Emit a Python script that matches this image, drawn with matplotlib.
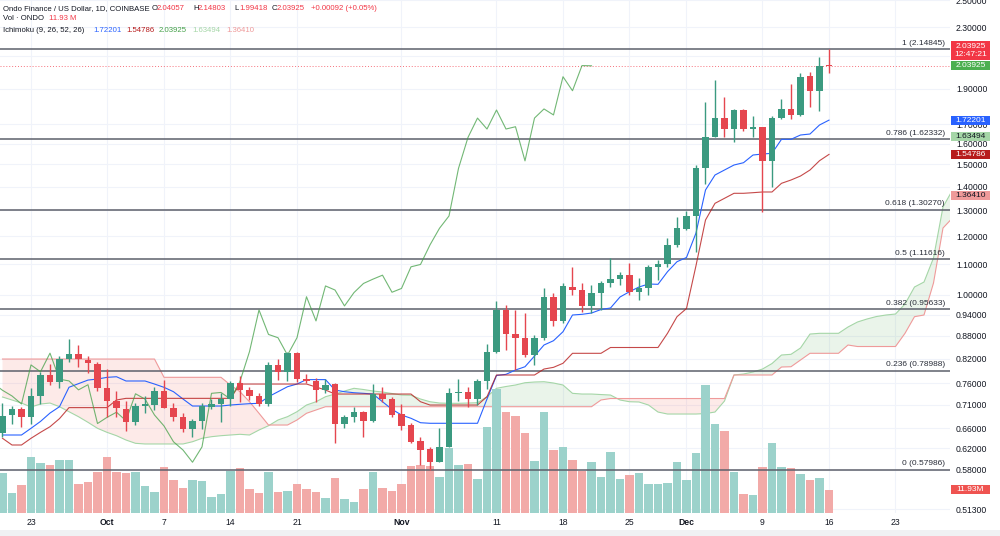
import numpy as np
import pandas as pd
import matplotlib
matplotlib.use("Agg")
import matplotlib.pyplot as plt
from matplotlib.patches import Rectangle
from matplotlib.ticker import FixedLocator, NullLocator, FuncFormatter
from matplotlib.transforms import blended_transform_factory

plt.rcParams['font.family'] = ['Liberation Sans', 'DejaVu Sans']

######### DATA  (ONDO / USD, 1D, Coinbase)
dates = pd.date_range('2024-09-20', '2024-12-16', freq='D')
# leading spans are drawn 25 bars ahead, so they run past the last candle
cloud_dates = pd.date_range('2024-09-20', '2024-12-29', freq='D')

opens = [0.651, 0.687, 0.701, 0.684, 0.731, 0.779, 0.763, 0.819, 0.832, 0.817,
         0.806, 0.748, 0.719, 0.701, 0.673, 0.707, 0.709, 0.742, 0.703, 0.683,
         0.658, 0.676, 0.706, 0.712, 0.723, 0.759, 0.744, 0.729, 0.712, 0.804,
         0.787, 0.834, 0.769, 0.765, 0.744, 0.758, 0.669, 0.684, 0.694, 0.676,
         0.735, 0.723, 0.690, 0.666, 0.635, 0.618, 0.594, 0.623, 0.736, 0.738,
         0.723, 0.765, 0.838, 0.954, 0.884, 0.875, 0.829, 0.873, 0.994, 0.922,
         1.026, 1.015, 0.966, 1.007, 1.036, 1.049, 1.065, 1.008, 1.020, 1.091,
         1.099, 1.168, 1.226, 1.279, 1.482, 1.632, 1.733, 1.673, 1.777, 1.677,
         1.684, 1.517, 1.733, 1.783, 1.750, 1.975, 1.887, 2.04057]
highs = [0.714, 0.708, 0.705, 0.748, 0.786, 0.806, 0.827, 0.871, 0.855, 0.827,
         0.811, 0.793, 0.742, 0.719, 0.714, 0.729, 0.750, 0.767, 0.714, 0.692,
         0.679, 0.714, 0.723, 0.736, 0.765, 0.776, 0.750, 0.736, 0.812, 0.819,
         0.838, 0.838, 0.781, 0.771, 0.769, 0.759, 0.688, 0.706, 0.697, 0.758,
         0.750, 0.728, 0.712, 0.671, 0.643, 0.623, 0.660, 0.748, 0.769, 0.750,
         0.769, 0.859, 0.980, 0.969, 0.954, 0.944, 0.882, 1.020, 1.007, 1.036,
         1.089, 1.036, 1.031, 1.045, 1.120, 1.075, 1.105, 1.053, 1.097, 1.114,
         1.192, 1.275, 1.299, 1.497, 1.824, 1.951, 1.849, 1.780, 1.780, 1.743,
         1.684, 1.743, 1.838, 1.927, 1.993, 2.002, 2.098, 2.14803]
lows = [0.642, 0.669, 0.662, 0.669, 0.712, 0.755, 0.748, 0.812, 0.798, 0.785,
        0.742, 0.684, 0.684, 0.655, 0.666, 0.692, 0.699, 0.703, 0.675, 0.653,
        0.643, 0.659, 0.702, 0.673, 0.708, 0.716, 0.721, 0.708, 0.708, 0.767,
        0.765, 0.763, 0.759, 0.717, 0.737, 0.631, 0.660, 0.673, 0.643, 0.673,
        0.716, 0.684, 0.657, 0.630, 0.588, 0.5799, 0.594, 0.622, 0.719, 0.706,
        0.710, 0.745, 0.834, 0.842, 0.791, 0.823, 0.804, 0.869, 0.907, 0.915,
        0.999, 0.949, 0.945, 0.954, 1.026, 1.031, 0.999, 0.984, 0.999, 1.047,
        1.091, 1.162, 1.223, 1.144, 1.412, 1.632, 1.634, 1.611, 1.665, 1.634,
        1.295, 1.400, 1.727, 1.726, 1.743, 1.795, 1.773, 1.99418]
closes = [0.686, 0.702, 0.684, 0.730, 0.779, 0.762, 0.819, 0.832, 0.818, 0.808,
          0.748, 0.719, 0.703, 0.673, 0.707, 0.711, 0.742, 0.703, 0.684, 0.659,
          0.676, 0.708, 0.712, 0.723, 0.760, 0.743, 0.730, 0.712, 0.804, 0.787,
          0.834, 0.769, 0.765, 0.744, 0.756, 0.670, 0.683, 0.694, 0.676, 0.735,
          0.723, 0.688, 0.665, 0.633, 0.617, 0.594, 0.623, 0.736, 0.738, 0.723,
          0.764, 0.838, 0.954, 0.884, 0.875, 0.829, 0.875, 0.994, 0.922, 1.028,
          1.015, 0.966, 1.007, 1.036, 1.050, 1.063, 1.008, 1.020, 1.091, 1.099,
          1.168, 1.230, 1.278, 1.482, 1.632, 1.733, 1.675, 1.777, 1.675, 1.687,
          1.517, 1.733, 1.783, 1.750, 1.971, 1.887, 2.0406, 2.03925]
volumes = [20.6, 10.4, 14.3, 28.8, 25.4, 24.7, 27.1, 27.1, 15.0, 15.9,
           21.1, 28.8, 21.1, 20.6, 21.1, 13.8, 10.9, 23.7, 16.7, 12.8,
           16.9, 16.4, 8.0, 9.9, 21.7, 22.9, 12.3, 10.2, 21.1, 10.9,
           11.3, 15.0, 12.3, 10.9, 7.5, 17.7, 7.0, 5.8, 12.1, 21.1,
           12.6, 11.3, 15.0, 23.9, 24.6, 24.1, 18.4, 33.4, 24.7, 25.2,
           17.4, 44.0, 63.3, 51.5, 49.7, 41.1, 26.6, 51.7, 32.1, 33.6,
           27.0, 21.3, 26.0, 18.3, 31.4, 17.6, 19.5, 20.5, 14.7, 15.0,
           15.4, 26.3, 16.9, 30.7, 65.5, 45.4, 42.0, 21.1, 9.9, 9.2,
           23.5, 35.7, 23.7, 23.0, 19.8, 16.7, 17.7, 11.93]  # millions
change, change_pct = 0.00092, 0.05

# Ichimoku (9, 26, 52, 26)
tenkan = [0.6465, 0.6465, 0.6465, 0.6601, 0.6744, 0.6922, 0.7060, 0.7500, 0.7585, 0.7670,
          0.7695, 0.7735, 0.7750, 0.7648, 0.7648, 0.7648, 0.7576, 0.7499, 0.7397, 0.7231,
          0.7075, 0.7075, 0.7075, 0.7075, 0.7097, 0.7113, 0.7127, 0.7135, 0.7283, 0.7397,
          0.7513, 0.7576, 0.7681, 0.7681, 0.7681, 0.7436, 0.7397, 0.7374, 0.7360, 0.7344,
          0.7170, 0.7003, 0.6880, 0.6810, 0.6717, 0.6705, 0.6705, 0.6705, 0.6705, 0.6705,
          0.6705, 0.7231, 0.7780, 0.7808, 0.7914, 0.7995, 0.8266, 0.8554, 0.8669, 0.8915,
          0.9391, 0.9411, 0.9449, 0.9553, 0.9598, 0.9932, 1.0097, 1.0246, 1.0342, 1.0332,
          1.0745, 1.1085, 1.1231, 1.2120, 1.3855, 1.4517, 1.4745, 1.4976, 1.5083, 1.5449,
          1.5497, 1.5531, 1.6222, 1.6222, 1.6441, 1.6492, 1.6961, 1.72201]
kijun = [0.6399, 0.6267, 0.6267, 0.6399, 0.6519, 0.6634, 0.6803, 0.7040, 0.7040, 0.7040,
         0.7040, 0.7040, 0.7209, 0.7246, 0.7246, 0.7246, 0.7246, 0.7246, 0.7246, 0.7246,
         0.7246, 0.7246, 0.7246, 0.7246, 0.7246, 0.7576, 0.7576, 0.7576, 0.7576, 0.7576,
         0.7576, 0.7576, 0.7576, 0.7506, 0.7436, 0.7344, 0.7344, 0.7344, 0.7344, 0.7344,
         0.7344, 0.7344, 0.7344, 0.7344, 0.7170, 0.7097, 0.7097, 0.7097, 0.7097, 0.7097,
         0.7097, 0.7283, 0.7792, 0.7792, 0.7792, 0.7792, 0.7792, 0.7938, 0.7980, 0.8081,
         0.8336, 0.8336, 0.8336, 0.8336, 0.8488, 0.8488, 0.8488, 0.8488, 0.8488, 0.8488,
         0.8871, 0.9342, 0.9583, 1.0950, 1.2620, 1.3293, 1.3502, 1.3714, 1.3714, 1.3740,
         1.3770, 1.3770, 1.4147, 1.4293, 1.4472, 1.4745, 1.5177, 1.54786]
span_a = [0.7276, 0.7209, 0.7141, 0.7053, 0.7119, 0.7141, 0.7060, 0.6951, 0.6844, 0.6725,
          0.6601, 0.6519, 0.6451, 0.6365, 0.6300, 0.6287, 0.6287, 0.6287, 0.6287, 0.6287,
          0.6331, 0.6399, 0.6431, 0.6451, 0.6465, 0.6479, 0.6465, 0.6566, 0.6654, 0.6774,
          0.6844, 0.6951, 0.7097, 0.7170, 0.7283, 0.7344, 0.7413, 0.7476, 0.7448, 0.7413,
          0.7390, 0.7356, 0.7321, 0.7315, 0.7231, 0.7170, 0.7141, 0.7135, 0.7135, 0.7141,
          0.7148, 0.7283, 0.7476, 0.7518, 0.7553, 0.7607, 0.7624, 0.7631, 0.7600, 0.7553,
          0.7360, 0.7344, 0.7344, 0.7332, 0.7321, 0.7209, 0.7170, 0.7164, 0.7097, 0.6944,
          0.6901, 0.6901, 0.6901, 0.6901, 0.6911, 0.6944, 0.7186, 0.7792, 0.7816, 0.7865,
          0.7938, 0.8075, 0.8292, 0.8310, 0.8475, 0.8851, 0.8871, 0.8871, 0.8871, 0.9047,
          0.9189, 0.9275, 0.9347, 0.9391, 0.9420, 0.9718, 1.0246, 1.0406, 1.1213, 1.3142,
          1.3855]
span_b = ([0.8189] * 17 + [0.7736] * 7 +
          [0.7553, 0.7397, 0.7170, 0.6917, 0.6669, 0.6669, 0.6669, 0.6774, 0.6917, 0.6988] +
          [0.7060] * 29 + [0.7209] + [0.7242] * 13 + [0.7792] * 5 +
          [0.7988, 0.7995, 0.8164] + [0.8336] * 4 + [0.8554] + [0.8514] * 5 +
          [0.8871, 0.9342, 0.9391, 1.0374, 1.2310, 1.2700])
# last leading-span values (25 bars ahead, off the right edge)
lead_a_last, lead_b_last = 1.63494, 1.36410

fib_ratios = ['1', '0.786', '0.618', '0.5', '0.382', '0.236', '0']
fib_prices = [2.14845, 1.62332, 1.30270, 1.11616, 0.95633, 0.78988, 0.57986]

price_ticks = [2.5, 2.3, 2.1, 1.9, 1.7, 1.6, 1.5, 1.4, 1.3, 1.2, 1.1, 1.0,
               0.94, 0.88, 0.82, 0.76, 0.71, 0.66, 0.62, 0.58, 0.513]
hidden_ticks = [2.1]   # covered by the last-price tag
tick_days = ['2024-09-23', '2024-10-01', '2024-10-07', '2024-10-14', '2024-10-21',
             '2024-11-01', '2024-11-11', '2024-11-18', '2024-11-25', '2024-12-01',
             '2024-12-09', '2024-12-16', '2024-12-23']
tick_text = ['23', 'Oct', '7', '14', '21', 'Nov', '11', '18', '25', 'Dec', '9', '16', '23']

######### STYLE
UP = '#3b9a80'
DOWN = '#e5464f'
VOL_UP = '#9cd2cb'
VOL_DOWN = '#f2aaa8'
TEXT = '#131722'
RED = '#F23645'
BLUE = '#2962FF'
BASE = '#B71C1C'
LAG = '#43A047'
LEAD_A = '#A5D6A7'
LEAD_B = '#EF9A9A'
VOL_TOP = 262.7  # volume (M) that would reach the top of the pane

origin = pd.Timestamp('2024-09-23')
x = (dates - origin).days.values
xc = (cloud_dates - origin).days.values
o = np.array(opens); h = np.array(highs); l = np.array(lows); c = np.array(closes)
up = c >= o
a = np.array(span_a); b = np.array(span_b)

fig = plt.figure(figsize=(10, 5.36), dpi=100)
ax = fig.add_axes([0, 23 / 536, 0.95, 513 / 536])
for s in ax.spines.values():
    s.set_visible(False)
ax.set_yscale('log')

# cloud
ax.fill_between(xc, a, b, where=a >= b, interpolate=True, color=LAG, alpha=0.11, lw=0, zorder=1)
ax.fill_between(xc, a, b, where=a < b, interpolate=True, color='#F44336', alpha=0.11, lw=0, zorder=1)
ax.plot(xc, a, color=LEAD_A, lw=0.8, zorder=1.2)
ax.plot(xc, b, color=LEAD_B, lw=0.8, zorder=1.2)

# volume, drawn in the lower part of the same pane
vol_tf = blended_transform_factory(ax.transData, ax.transAxes)
ax.bar(x, np.array(volumes) / VOL_TOP, width=0.88, bottom=0,
       color=np.where(up, VOL_UP, VOL_DOWN), transform=vol_tf, zorder=2)

# fibonacci levels
lab_tf = blended_transform_factory(ax.transAxes, ax.transData)
for r, p in zip(fib_ratios, fib_prices):
    ax.axhline(p, color='#5d606b', lw=1.1, zorder=3)
    ax.annotate(f'{r} ({p:.5f})', xy=(0.9947, p), xycoords=lab_tf, xytext=(0, 1.8),
                textcoords='offset points', ha='right', va='bottom', fontsize=6.0,
                color='#2a2e39', zorder=3)

# last price line
ax.axhline(closes[-1], color=RED, lw=0.7, ls=(0, (1, 2)), alpha=0.7, zorder=3)

# ichimoku lines
ax.plot(x, tenkan, color=BLUE, lw=0.8, zorder=3.5)
ax.plot(x, kijun, color=BASE, lw=0.8, alpha=0.8, zorder=3.5)
ax.plot(x - 25, closes, color=LAG, lw=0.8, alpha=0.75, zorder=3.5)

# candles
ccol = np.where(up, UP, DOWN)
ax.vlines(x, l, h, colors=ccol, lw=1.0, zorder=4)
body_lo = np.minimum(o, c)
body_h = np.maximum(np.abs(c - o), body_lo * 0.003)
ax.bar(x, body_h, bottom=body_lo, width=0.7, color=ccol, lw=0, zorder=4.5)

# axes / ticks
ax.set_xlim(-3.263, 96.737)
ax.set_ylim(0.5072, 2.5024)
ax.yaxis.tick_right()
ax.yaxis.set_major_locator(FixedLocator(price_ticks))
ax.yaxis.set_minor_locator(NullLocator())
ax.yaxis.set_major_formatter(FuncFormatter(
    lambda v, pos: '' if any(np.isclose(v, hidden_ticks)) else f'{v:.5f}'))
ax.tick_params(axis='y', length=0, pad=4.3, labelsize=6.2, labelcolor=TEXT)
tick_x = (pd.to_datetime(tick_days) - origin).days.values
ax.set_xticks(tick_x)
ax.set_xticklabels(tick_text)
ax.tick_params(axis='x', length=0, pad=3.5, labelsize=6.2, labelcolor=TEXT)
for lbl in ax.get_xticklabels():
    if lbl.get_text() in ('Oct', 'Nov', 'Dec'):
        lbl.set_fontweight('bold')
ax.grid(True, color='#f0f3fa', lw=0.8)
ax.set_axisbelow(True)


######### PRICE TAGS ON THE RIGHT SCALE
def tag(y_disp, text, bg, fg='white', h=9.0):
    fig.add_artist(Rectangle((951 / 1000, (y_disp - h / 2) / 536), 39 / 1000, h / 536,
                             transform=fig.transFigure, facecolor=bg, edgecolor='none', zorder=5))
    fig.text(970.5 / 1000, y_disp / 536, text, ha='center', va='center', color=fg,
             fontsize=6.0, linespacing=1.15, zorder=6)


def ydisp(p):
    return ax.transData.transform((0, p))[1]


tag(ydisp(tenkan[-1]), f'{tenkan[-1]:.5f}', BLUE)
tag(ydisp(lead_a_last), f'{lead_a_last:.5f}', LEAD_A, fg=TEXT)
tag(ydisp(kijun[-1]), f'{kijun[-1]:.5f}', BASE)
tag(ydisp(lead_b_last), f'{lead_b_last:.5f}', LEAD_B, fg=TEXT)
tag(ydisp(closes[-1]), f'{closes[-1]:.5f}', '#4caf50')
tag(ydisp(closes[-1]) + 15, f'{closes[-1]:.5f}\n12:47:21', RED, h=18.6)
tag(vol_tf.transform((0, volumes[-1] / VOL_TOP))[1], f'{volumes[-1]:.2f}M', '#ef5350')


######### LEGEND TEXT (top left)
def put(xpx, ypx, s, color=TEXT):
    fig.text(xpx / 1000, 1 - ypx / 536, s, ha='left', va='center', fontsize=5.6, color=color)


put(3, 8.3, 'Ondo Finance / US Dollar, 1D, COINBASE')
for lx, vx, k, v in [(152, 157, 'O', opens[-1]), (193, 198, 'H', highs[-1]),
                     (234.5, 239, 'L', lows[-1]), (272, 277, 'C', closes[-1])]:
    put(lx, 8.3, k)
    put(vx, 8.3, f'{v:.5f}', RED)
put(311, 8.3, f'+{change:.5f} (+{change_pct:.2f}%)', RED)
put(3, 18.6, 'Vol · ONDO')
put(49, 18.6, f'{volumes[-1]:.2f} M', RED)
put(3, 30, 'Ichimoku (9, 26, 52, 26)')
for xx, v, col in [(93, tenkan[-1], BLUE), (126, kijun[-1], BASE), (159, closes[-1], LAG),
                   (192, lead_a_last, LEAD_A), (226, lead_b_last, LEAD_B)]:
    put(xx, 30, f'{v:.5f}', col)

# bottom strip
fig.add_artist(Rectangle((0, 0), 1, 6 / 536, transform=fig.transFigure,
                         facecolor='#f0f1f3', edgecolor='none'))

fig.savefig('out.png', dpi=100)
